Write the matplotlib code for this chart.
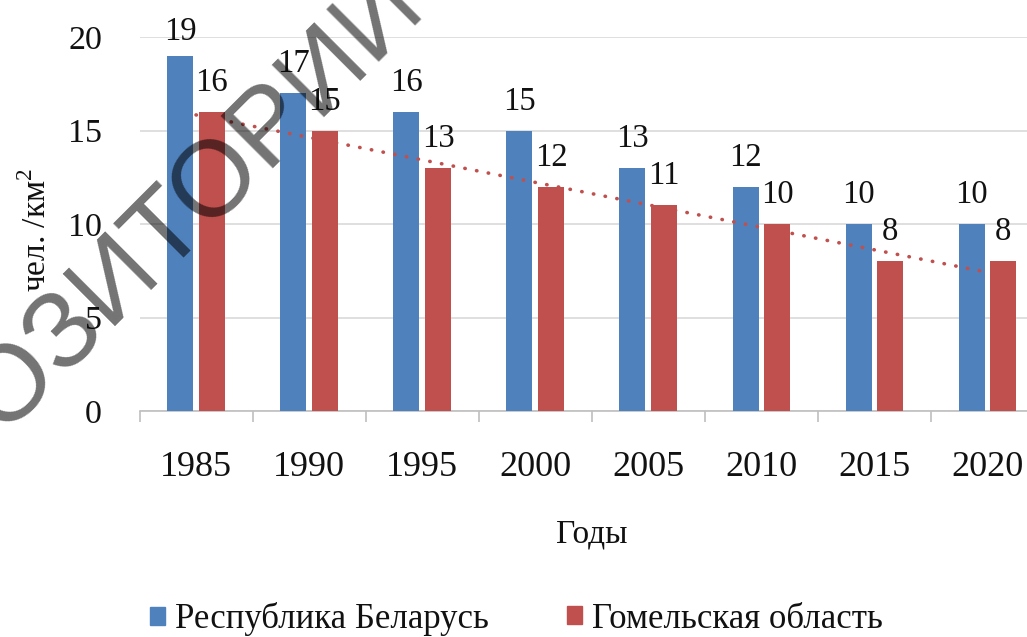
import numpy as np
import matplotlib
matplotlib.use("Agg")
import matplotlib.pyplot as plt
from matplotlib.patches import Patch

plt.rcParams['font.family'] = ['Liberation Serif', 'DejaVu Serif']
plt.rcParams['mathtext.fontset'] = 'custom'
plt.rcParams['mathtext.rm'] = 'Liberation Serif'

# плотность населения, чел./км2
years = ['1985', '1990', '1995', '2000', '2005', '2010', '2015', '2020']
belarus = [19, 17, 16, 15, 13, 12, 10, 10]
gomel = [16, 15, 13, 12, 11, 10, 8, 8]
series_names = ['Республика Беларусь', 'Гомельская область']

c_blue = '#4f81bd'
c_red = '#c0504d'
ink = '#111111'

W, H = 1027, 637
fig = plt.figure(figsize=(W / 100, H / 100), dpi=100)
ax = fig.add_axes([139.5 / W, 1 - 411 / H, 904.5 / W, 374 / H])

x = np.arange(len(years))
bw = 0.23
off = 0.14
b1 = ax.bar(x - off, belarus, bw, color=c_blue, zorder=3)
b2 = ax.bar(x + off, gomel, bw, color=c_red, zorder=3)

# подписи значений над столбцами (верхняя прижата к краю области)
for bars in (b1, b2):
    for r in bars:
        v = r.get_height()
        ax.text(r.get_x() + r.get_width() / 2, min(v + 1.12, 19.84), f'{v:.0f}',
                ha='center', va='baseline', fontsize=23.5, color=ink, zorder=5)

# линейный тренд по области
k, b = np.polyfit(x, gomel, 1)
ax.plot(x, k * x + b, color=c_red, lw=2.6, ls=(0, (0.1, 3.2)),
        dash_capstyle='round', zorder=4)

ax.set_xlim(-0.5, len(years) - 0.5)
ax.set_ylim(0, 20)
ax.set_yticks([0, 5, 10, 15, 20])
ax.yaxis.grid(True, color='#d9d9d9', lw=1.2, zorder=0)
ax.set_xticks(x)
ax.set_xticklabels(years)
ax.set_xticks(np.arange(-0.5, len(years)), minor=True)
ax.tick_params(axis='x', which='major', length=0, pad=29, labelsize=26, labelcolor=ink)
ax.tick_params(axis='x', which='minor', length=8, color='#bfbfbf', width=1.2)
ax.tick_params(axis='y', length=0, pad=27, labelsize=24.5, labelcolor=ink)
for s in ('top', 'right', 'left'):
    ax.spines[s].set_visible(False)
ax.spines['bottom'].set_color('#bfbfbf')
ax.spines['bottom'].set_linewidth(1.2)

ax.set_xlabel('Годы', fontsize=24, labelpad=25, color=ink)
fig.text(37 / W, 1 - 230 / H, 'чел. /км$^2$', rotation=90, ha='center', va='center',
         fontsize=24, color=ink)

# легенда: два элемента, каждый на своём месте
for name, col, x0 in zip(series_names, (c_blue, c_red), (150, 567)):
    fig.legend([Patch(color=col)], [name], loc='center left',
               bbox_to_anchor=(x0 / W, 1 - 619 / H), frameon=False, fontsize=25,
               handlelength=0.42, handleheight=0.42, handletextpad=0.3,
               borderpad=0, borderaxespad=0, labelcolor=ink)

# водяной знак репозитория
fig.text(194 / W, 1 - 208 / H, 'РЕПОЗИТОРИЙ ГГУ',
         family=['Liberation Sans Narrow', 'Liberation Sans'], fontsize=78,
         rotation=45, ha='center', va='center', rotation_mode='anchor',
         color='black', alpha=0.55, zorder=10)

fig.savefig('out.png', dpi=100)
